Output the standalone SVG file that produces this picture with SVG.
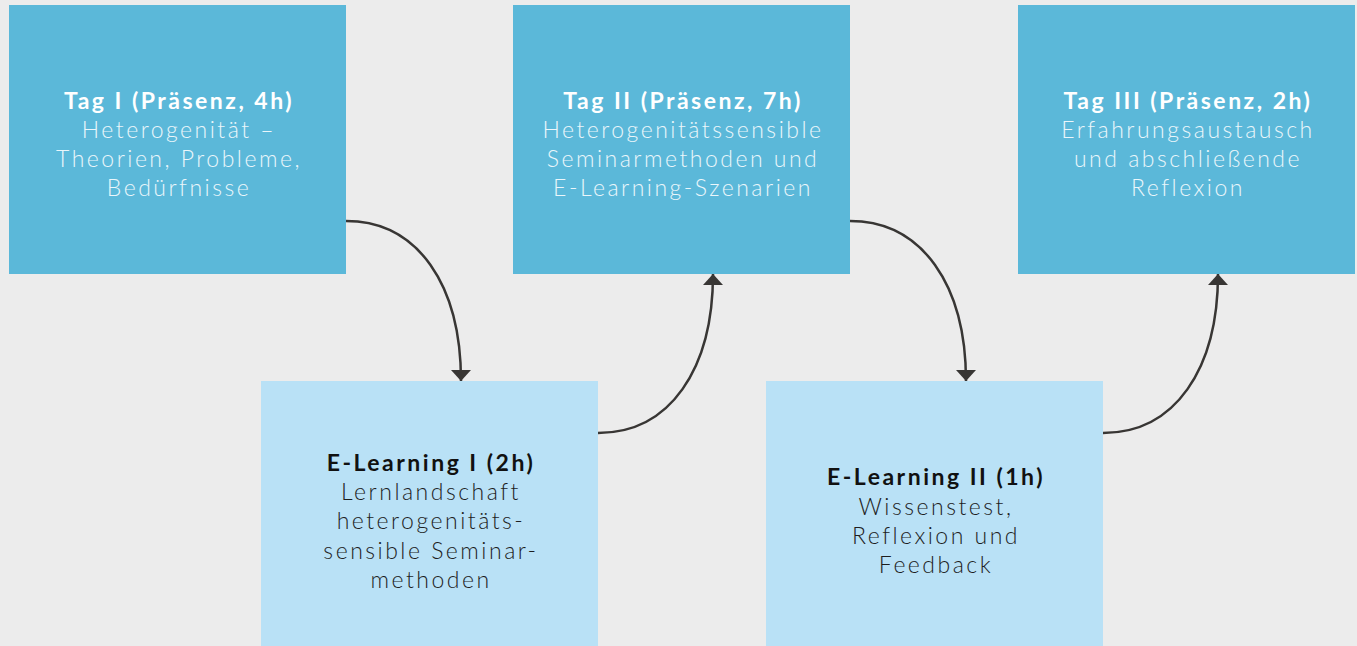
<svg xmlns="http://www.w3.org/2000/svg" width="1357" height="646" viewBox="0 0 1357 646">
<defs>
<marker id="ah" markerWidth="11" markerHeight="20" refX="11" refY="10" orient="auto" markerUnits="userSpaceOnUse">
<path d="M0,0 L11,10 L0,20 Z" fill="#383634"/>
</marker>
<style>
.top{fill:#5bb8d9}
.bot{fill:#b9e1f6}
text{font-family:"Lato","Liberation Sans",sans-serif;font-size:23px;text-anchor:middle;letter-spacing:2.5px}
.t{font-weight:700}
.b{font-weight:300}
.wt{fill:#ffffff}
.wb{fill:#eaf6fb}
.dt{fill:#111111}
.db{fill:#1e1e1e}
.c{fill:none;stroke:#383634;stroke-width:2.5}
</style>
</defs>
<rect width="1357" height="646" fill="#ececec"/>
<g id="connectors">
<path class="c" d="M346,221 C418,221 461,285 461,381" marker-end="url(#ah)"/>
<path class="c" d="M598,433 C670,433 713,369 713,274" marker-end="url(#ah)"/>
<path class="c" d="M850,221 C922,221 966,285 966,381" marker-end="url(#ah)"/>
<path class="c" d="M1103,433 C1175,433 1218,369 1218,274" marker-end="url(#ah)"/>
</g>
<g id="tag1">
<rect class="top" x="9" y="5" width="337" height="269"/>
<text x="179" y="109" class="t wt">Tag I (Präsenz, 4h)</text>
<text x="179" y="138" class="b wb">Heterogenität –</text>
<text x="179" y="167" class="b wb">Theorien, Probleme,</text>
<text x="179" y="196" class="b wb">Bedürfnisse</text>
</g>
<g id="tag2">
<rect class="top" x="513" y="5" width="337" height="269"/>
<text x="683" y="109" class="t wt">Tag II (Präsenz, 7h)</text>
<text x="683" y="138" class="b wb">Heterogenitätssensible</text>
<text x="683" y="167" class="b wb">Seminarmethoden und</text>
<text x="683" y="196" class="b wb">E-Learning-Szenarien</text>
</g>
<g id="tag3">
<rect class="top" x="1018" y="5" width="337" height="269"/>
<text x="1188" y="109" class="t wt">Tag III (Präsenz, 2h)</text>
<text x="1188" y="138" class="b wb">Erfahrungsaustausch</text>
<text x="1188" y="167" class="b wb">und abschließende</text>
<text x="1188" y="196" class="b wb">Reflexion</text>
</g>
<g id="elearning1">
<rect class="bot" x="261" y="381" width="337" height="265"/>
<text x="431" y="471" class="t dt">E-Learning I (2h)</text>
<text x="431" y="500" class="b db">Lernlandschaft</text>
<text x="431" y="529" class="b db">heterogenitäts-</text>
<text x="431" y="559" class="b db">sensible Seminar-</text>
<text x="431" y="588" class="b db">methoden</text>
</g>
<g id="elearning2">
<rect class="bot" x="766" y="381" width="337" height="265"/>
<text x="936" y="485" class="t dt">E-Learning II (1h)</text>
<text x="936" y="515" class="b db">Wissenstest,</text>
<text x="936" y="544" class="b db">Reflexion und</text>
<text x="936" y="573" class="b db">Feedback</text>
</g>
</svg>
